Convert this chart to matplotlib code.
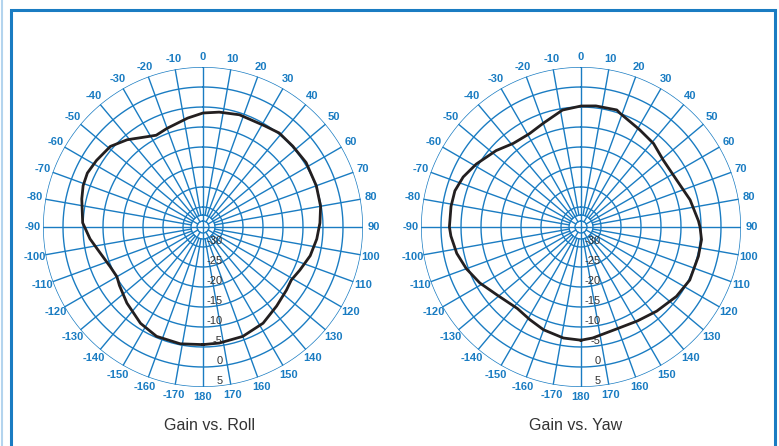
import numpy as np
import matplotlib
matplotlib.use("Agg")
import matplotlib.pyplot as plt
from matplotlib.patches import Rectangle
from matplotlib.lines import Line2D

plt.rcParams['font.family'] = ['Liberation Sans', 'DejaVu Sans']

# gain patterns (angle in degrees, gain in dB)
roll_angle = [-180, -169, -157, -147, -135, -125, -120, -113, -104, -96, -88,
              -77, -71, -65, -58, -49, -41, -32, -27, -20, -8, 0, 8, 18, 31,
              39, 48, 58, 70, 80, 88, 96, 105, 114, 121, 127, 137, 148, 160,
              172, 180]
roll_gain = [-5.6, -5.25, -5.3, -6.3, -8.1, -9.5, -10.15, -9.75, -8.45, -6.6,
             -4.9, -3.9, -3.3, -3.1, -3.6, -4.3, -6.1, -8.4, -9.25, -8.75,
             -7.5, -6.5, -6.0, -5.5, -5.4, -4.75, -4.8, -4.6, -4.85, -5.15,
             -5.75, -6.4, -7.25, -8.5, -9.25, -8.85, -8.0, -6.65, -5.9, -5.7,
             -5.6]

yaw_angle = [-180, -171, -160, -151, -142, -129, -119, -110, -102, -94, -90,
             -81, -74, -67, -59, -48, -39, -29, -20, -9, 0, 7, 17, 19, 31, 41,
             51, 64, 76, 87, 90, 96, 104, 116, 126, 138, 149, 161, 174, 180]
yaw_gain = [-6.7, -6.9, -7.65, -8.55, -9.15, -8.0, -6.1, -4.5, -3.25, -2.4,
            -2.1, -2.1, -2.2, -3.0, -4.45, -6.45, -8.1, -8.35, -7.4, -5.4,
            -4.75, -4.5, -4.4, -4.95, -6.6, -7.35, -8.5, -8.35, -6.9, -5.6,
            -5.25, -4.7, -4.75, -4.75, -5.5, -6.7, -7.6, -8.0, -7.1, -6.7]

ring_db = [-30, -25, -20, -15, -10, -5, 0, 5]
ring_labels = ['-30', '-25', '-20', '-15', '-10', '-5', '0', '5']
spoke_deg = list(range(0, 360, 10))
spoke_labels = [str(d if d <= 180 else d - 360) for d in spoke_deg]

blue = '#1a7cc2'
rmin, rmax = -35, 5

W, H = 779, 446
fig = plt.figure(figsize=(W / 100, H / 100), dpi=100)


def polar_panel(cx, cy, angle, gain, title, tx):
    rad = 160
    ax = fig.add_axes([(cx - rad) / W, 1 - (cy + rad) / H, 2 * rad / W, 2 * rad / H],
                      projection='polar')
    ax.set_theta_zero_location('N')
    ax.set_theta_direction(-1)
    ax.set_ylim(rmin, rmax)
    ax.grid(False)
    ax.set_xticks([])
    ax.set_yticks([])
    ax.spines['polar'].set_visible(False)
    ax.patch.set_alpha(0)

    th = np.linspace(0, 2 * np.pi, 361)
    for r in ring_db + [-33.5, -32]:
        ax.plot(th, np.full_like(th, r), color=blue, lw=1.0, zorder=1)
    for d in spoke_deg:
        t = np.deg2rad(d)
        r0 = rmin if d % 90 == 0 else (-33.5 if d % 30 == 0 else -32)
        ax.plot([t, t], [r0, rmax], color=blue, lw=1.0, zorder=1)
        ax.text(t, 7.6, spoke_labels[spoke_deg.index(d)], color=blue,
                fontsize=8, fontweight='bold', ha='center', va='center',
                clip_on=False)
    for r, lab in zip(ring_db, ring_labels):
        ax.annotate(lab, xy=(np.pi, r - 1.6), xytext=(14.2, 0),
                    textcoords='offset points', ha='right', va='center',
                    fontsize=8, color='#333333', annotation_clip=False)

    ax.plot(np.deg2rad(angle), gain, color='#231f20', lw=2.0, zorder=3,
            solid_joinstyle='round')
    fig.text(tx / W, 1 - 426 / H, title, ha='center', va='center',
             fontsize=11.5, color='#333333')
    return ax


polar_panel(203, 227, roll_angle, roll_gain, 'Gain vs. Roll', 210)
polar_panel(581, 227, yaw_angle, yaw_gain, 'Gain vs. Yaw', 576)

# frame around the figure
fig.patches.append(Rectangle((11 / W, -0.05), 764 / W, 1.05 - 10.5 / H,
                             transform=fig.transFigure, fill=False,
                             edgecolor=blue, lw=2.2))
fig.lines.append(Line2D([1.5 / W, 1.5 / W], [0, 1], transform=fig.transFigure,
                        color='#b3d4ee', lw=1.5))

fig.savefig('out.png', dpi=100)
